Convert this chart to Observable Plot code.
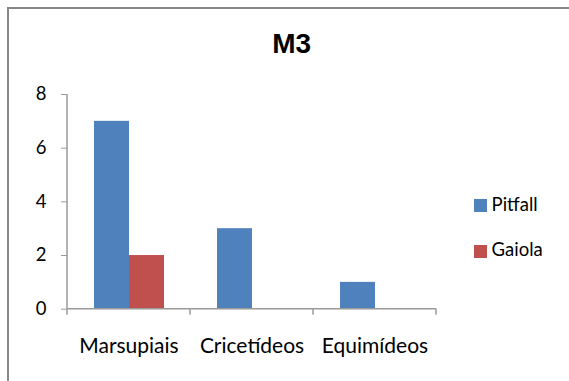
<!DOCTYPE html>
<html>
<head>
<meta charset="utf-8">
<script src="https://cdn.jsdelivr.net/npm/d3@7"></script>
<script src="https://cdn.jsdelivr.net/npm/@observablehq/plot@0.6"></script>
<style>
  html, body { margin: 0; padding: 0; background: #fff; }
  #wrap { position: relative; width: 569px; height: 381px; overflow: hidden; background: #fff; }
  #chart { position: absolute; left: 0; top: 0; }
  #frame { position: absolute; left: 7px; top: 7px; width: 700px; height: 500px;
           border-top: 2px solid #878787; border-left: 2px solid #878787; pointer-events: none; z-index: 3; }
  #title { position: absolute; left: 291.7px; top: 29.6px; transform: translateX(-50%);
           font: bold 28px "Liberation Sans", Arial, sans-serif; line-height: 28px; color: #000;
           white-space: nowrap; z-index: 2; }
  .sw { position: absolute; width: 13px; height: 13px; left: 474px; z-index: 2; }
  .lt { position: absolute; left: 491.6px; font: 18.5px Lato, sans-serif; line-height: 18.5px;
        color: #000; white-space: nowrap; z-index: 2; }
</style>
</head>
<body>
<div id="wrap">
  <div id="chart"></div>
  <div id="title"></div>
  <div id="legend"></div>
  <div id="frame"></div>
</div>
<script>
// ---- data ----
const title = "M3";
const categories = ["Marsupiais", "Cricetídeos", "Equimídeos"];
const series = ["Pitfall", "Gaiola"];
const pitfall = [7, 3, 1];
const gaiola = [2, 0, 0];
const yTicks = [0, 2, 4, 6, 8];
const colors = ["#4F81BD", "#C0504D"];

const values = { Pitfall: pitfall, Gaiola: gaiola };
const data = [];
categories.forEach((c, i) => series.forEach(s => data.push({ cat: c, series: s, value: values[s][i] })));

// axis lines (y axis line, x baseline, boundary ticks) drawn from the scales
function axisLines(index, scales, vals, dimensions, context) {
  const fx = scales.fx, y = scales.y;
  let bw = (fx && typeof fx.bandwidth === "function") ? fx.bandwidth()
         : (scales.scales && scales.scales.fx ? scales.scales.fx.bandwidth : 0);
  const g = d3.create("svg:g").attr("stroke", "#9a9a9a").attr("stroke-width", 1.5).attr("fill", "none");
  const x0 = fx(categories[0]);
  const x1 = fx(categories[categories.length - 1]) + bw;
  const y0 = y(0), yTop = y(d3.max(yTicks));
  g.append("line").attr("x1", x0).attr("x2", x0).attr("y1", y0).attr("y2", yTop);
  g.append("line").attr("x1", x0).attr("x2", x1).attr("y1", y0).attr("y2", y0);
  const bounds = categories.map(c => fx(c)).concat([x1]);
  bounds.forEach(b => g.append("line").attr("x1", b).attr("x2", b).attr("y1", y0).attr("y2", y0 + 6));
  return g.node();
}

const plot = Plot.plot({
  width: 569,
  height: 381,
  marginLeft: 66,
  marginRight: 131.5,
  marginTop: 94,
  marginBottom: 72.3,
  style: { fontFamily: "Lato, sans-serif", fontSize: "18.5px", color: "#000", background: "transparent" },
  fx: { domain: categories, padding: 0, label: null },
  x: { domain: series, paddingInner: 0, paddingOuter: 0.75, axis: null },
  y: { domain: [0, 8], label: null },
  color: { domain: series, range: colors },
  marks: [
    Plot.barY(data, { fx: "cat", x: "series", y: "value", fill: "series", inset: 0 }),
    Plot.frame({ facet: "super", render: axisLines }),
    Plot.axisY({ ticks: yTicks, tickSize: 6, tickPadding: 15, stroke: "#9a9a9a", fill: "#000",
                 fontSize: 18.5, label: null, tickFormat: d => String(d) }),
    Plot.axisFx({ anchor: "bottom", tickSize: 0, tickPadding: 29, fill: "#000", fontSize: 21, label: null })
  ]
});
document.getElementById("chart").appendChild(plot);

document.getElementById("title").textContent = title;

// legend
const legend = document.getElementById("legend");
const swTops = [199, 244.5];
const txtTops = [195.3, 240.0];
series.forEach((s, i) => {
  const sw = document.createElement("div");
  sw.className = "sw";
  sw.style.top = swTops[i] + "px";
  sw.style.background = colors[i];
  legend.appendChild(sw);
  const t = document.createElement("div");
  t.className = "lt";
  t.style.top = txtTops[i] + "px";
  t.textContent = s;
  legend.appendChild(t);
});
</script>
</body>
</html>
